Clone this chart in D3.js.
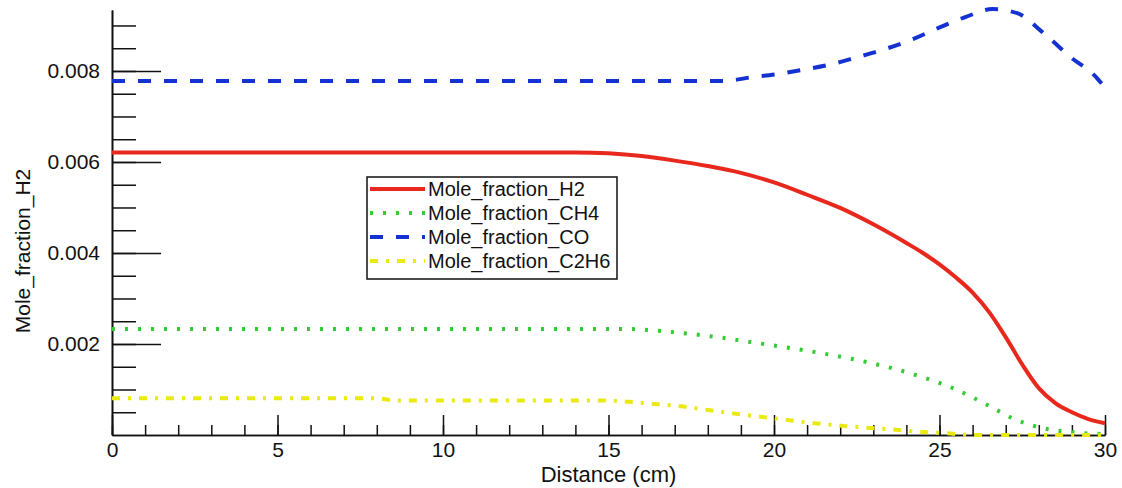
<!DOCTYPE html>
<html>
<head>
<meta charset="utf-8">
<script src="https://cdn.jsdelivr.net/npm/d3@7"></script>
<style>
  html, body { margin: 0; padding: 0; background: #ffffff; }
  svg { display: block; }
  text { font-family: "Liberation Sans", Arial, Helvetica, sans-serif; fill: #111; }
</style>
</head>
<body>
<svg id="chart" width="1122" height="488"></svg>
<script>
// ---- data ----
const seriesNames = ["Mole_fraction_H2", "Mole_fraction_CH4", "Mole_fraction_CO", "Mole_fraction_C2H6"];

const h2Distance = [0, 5, 10, 14, 15, 16, 17, 18, 19, 20, 21, 22, 23, 24, 24.5, 25, 25.5, 26, 26.5, 27, 27.5, 28, 28.5, 29, 29.5, 30];
const h2Values   = [0.00621, 0.00621, 0.00621, 0.00621, 0.00619, 0.00613, 0.00603, 0.00591, 0.00576, 0.00555, 0.00528, 0.00499, 0.00463, 0.00422, 0.00400, 0.00375, 0.00346, 0.00313, 0.00270, 0.00215, 0.00155, 0.00103, 0.00070, 0.00050, 0.00035, 0.00026];

const ch4Distance = [0, 10, 15.5, 16.5, 17.5, 18.5, 19.5, 20.5, 21.5, 22.5, 23.5, 24.5, 25.5, 26.5, 27.2, 28, 29, 30];
const ch4Values   = [0.00233, 0.00233, 0.00233, 0.00229, 0.00222, 0.00213, 0.00202, 0.00191, 0.00179, 0.00165, 0.00148, 0.00127, 0.00100, 0.00064, 0.00037, 0.00017, 0.00006, 0.00002];

const coDistance = [0, 10, 18.5, 19.3, 20.1, 20.9, 21.75, 22.5, 23.35, 24.2, 24.95, 25.8, 26.6, 27.35, 28.1, 28.95, 29.75, 30];
const coValues   = [0.00778, 0.00778, 0.00778, 0.00786, 0.00793, 0.00803, 0.00815, 0.00830, 0.00848, 0.00870, 0.00894, 0.00919, 0.00936, 0.00927, 0.00886, 0.00831, 0.00785, 0.00763];

const c2h6Distance = [0, 8, 8.5, 14.7, 15.6, 16.4, 17.2, 18.0, 18.8, 19.6, 20.4, 21.2, 22.1, 22.8, 23.6, 24.4, 25.2, 26, 30];
const c2h6Values   = [0.00081, 0.00081, 0.00076, 0.00076, 0.00073, 0.00068, 0.00063, 0.00055, 0.00047, 0.00040, 0.00033, 0.00026, 0.00020, 0.00016, 0.00012, 0.00007, 0.00004, 0.00000, 0.00000];

const xMajorTicks = [0, 5, 10, 15, 20, 25, 30];
const xMinorTicks = d3.range(0, 31, 1);
const yMajorTicks = [0.002, 0.004, 0.006, 0.008];
const yMinorTicks = d3.range(1, 19).map(i => i * 0.0005);

const xTitle = "Distance (cm)";
const yTitle = "Mole_fraction_H2";

// ---- layout ----
const svg = d3.select("#chart");
const plotL = 112, plotR = 1105, plotT = 10, plotB = 435;
const x = d3.scaleLinear().domain([0, 30]).range([plotL, plotR]);
const y = d3.scaleLinear().domain([0, 0.00934]).range([plotB, plotT]);

const styles = [
  { color: "#e8281c", dash: null, width: 4 },
  { color: "#33cc33", dash: "3,10", width: 4 },
  { color: "#1432d2", dash: "13,13", width: 4 },
  { color: "#eaea12", dash: "8,8,3,8", width: 4 }
];

const series = [
  h2Distance.map((d, i) => [d, h2Values[i]]),
  ch4Distance.map((d, i) => [d, ch4Values[i]]),
  coDistance.map((d, i) => [d, coValues[i]]),
  c2h6Distance.map((d, i) => [d, c2h6Values[i]])
];

// ---- axes ----
const xMinor = d3.axisBottom(x).tickValues(xMinorTicks).tickSizeInner(-10).tickSizeOuter(0).tickFormat("");
const xMajor = d3.axisBottom(x).tickValues(xMajorTicks).tickSizeInner(-20).tickSizeOuter(0).tickPadding(7).tickFormat(d3.format("d"));
const yMinor = d3.axisLeft(y).tickValues(yMinorTicks).tickSizeInner(-24).tickSizeOuter(0).tickFormat("");
const yMajor = d3.axisLeft(y).tickValues(yMajorTicks).tickSizeInner(-49).tickSizeOuter(0).tickPadding(12).tickFormat(d3.format(".3f"));

function styleAxis(g) {
  g.selectAll("path.domain").attr("stroke", "#111").attr("stroke-width", 1.6);
  g.selectAll(".tick line").attr("stroke", "#111").attr("stroke-width", 1.5);
  g.selectAll(".tick text").style("font-family", '"Liberation Sans", Arial, sans-serif').style("font-size", "21px").attr("fill", "#111");
}

svg.append("g").attr("transform", `translate(0,${plotB})`).call(xMinor).call(styleAxis);
svg.append("g").attr("transform", `translate(0,${plotB})`).call(xMajor).call(styleAxis);
svg.append("g").attr("transform", `translate(${plotL},0)`).call(yMinor).call(styleAxis);
svg.append("g").attr("transform", `translate(${plotL},0)`).call(yMajor).call(styleAxis);

// ---- axis titles ----
svg.append("text").attr("x", (plotL + plotR) / 2).attr("y", 474)
  .attr("text-anchor", "middle").attr("dominant-baseline", "central")
  .style("font-size", "22px").text(xTitle);
svg.append("text").attr("transform", "translate(22,251) rotate(-90)")
  .attr("text-anchor", "middle").attr("dominant-baseline", "central")
  .style("font-size", "21px").text(yTitle);

// ---- lines ----
const line = d3.line().x(d => x(d[0])).y(d => y(d[1])).curve(d3.curveMonotoneX);
series.forEach((s, i) => {
  svg.append("path").datum(s)
    .attr("d", line)
    .attr("fill", "none")
    .attr("stroke", styles[i].color)
    .attr("stroke-width", styles[i].width)
    .attr("stroke-dasharray", styles[i].dash)
    .attr("stroke-linejoin", "round");
});

// ---- legend ----
const lg = svg.append("g");
lg.append("rect").attr("x", 367).attr("y", 177).attr("width", 250).attr("height", 102)
  .attr("fill", "#fff").attr("stroke", "#111").attr("stroke-width", 1.5);
seriesNames.forEach((name, i) => {
  const yy = 189 + i * 24;
  lg.append("line").attr("x1", 370).attr("x2", 425).attr("y1", yy).attr("y2", yy)
    .attr("stroke", styles[i].color).attr("stroke-width", styles[i].width)
    .attr("stroke-dasharray", styles[i].dash);
  lg.append("text").attr("x", 428).attr("y", yy).attr("dominant-baseline", "central")
    .style("font-size", "20px").text(name);
});
</script>
</body>
</html>
